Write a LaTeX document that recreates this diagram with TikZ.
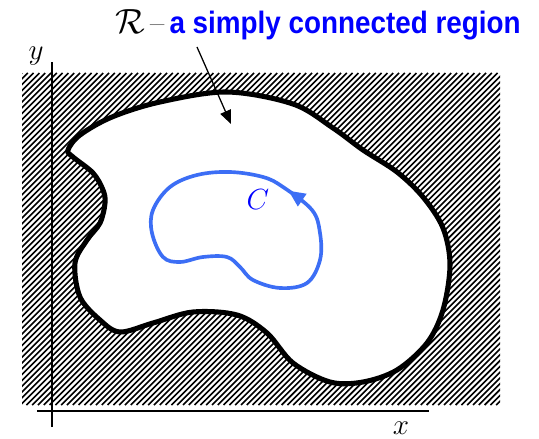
\documentclass[tikz,border=0pt]{standalone}
\usepackage{fontspec}
\setsansfont{Liberation Sans}
\usepackage{tikz}
\usetikzlibrary{positioning,arrows.meta,decorations.markings}
\definecolor{titleblue}{RGB}{0,0,255}
\definecolor{curveblue}{RGB}{60,110,245}
\tikzset{
  hatch-line/.style={line width=1.15pt, draw=black},
  region-line/.style={line width=3.6pt, draw=black, fill=white, line join=round},
  contour-line/.style={line width=2.6pt, draw=curveblue, line join=round},
  axis-line/.style={line width=1.3pt, draw=black},
  pointer-arrow/.style={-{Triangle[length=3.4mm, width=2.8mm]}, line width=0.9pt, draw=black},
  axis-label/.style={font=\fontsize{20}{22}\selectfont, inner sep=0pt}
}

\begin{document}
\begin{tikzpicture}[x=0.025cm, y=-0.025cm]
\useasboundingbox (0,0) rectangle (539,439);

% Hatched background
\begin{scope}
  \clip (22,73) rectangle (500,405);
  \foreach \c in {95,100.8,...,910}
    \draw[hatch-line] (\c-405,405) -- (\c-73,73);
\end{scope}

% Region R
\draw[region-line] plot[smooth cycle, tension=0.55] coordinates {
  (68,150) (80,135) (112,117) (160,102) (227,92) (293,104) (333,128)
  (363,150) (397,172) (423,197) (443,228) (450,265) (443,310) (427,343)
  (397,370) (363,382) (330,382) (293,363) (267,333) (237,315) (193,312)
  (153,323) (120,332) (100,320) (80,297) (75,263) (87,240) (100,223)
  (105,203) (103,190) (93,173) (73,157)};

% Axes
\coordinate (y-top) at (52,62);
\coordinate (y-end) at (52,427);
\coordinate (x-start) at (37,411);
\coordinate (x-end) at (429,411);
\draw[axis-line] (y-end) -- (y-top);
\draw[axis-line] (x-start) -- (x-end);
\node[axis-label] (x-label) at (401,428) {$x$};
\node[axis-label] (y-label) at (36,56) {$y$};

% Curve C
\draw[contour-line, postaction={decorate}, decoration={markings,
    mark=at position 0.065 with {\arrow[curveblue]{Triangle[length=4.2mm, width=3.6mm]}}}]
  plot[smooth cycle, tension=0.6] coordinates {
  (320,233) (312,210) (283,187) (263,177) (230,172) (197,175) (170,187)
  (153,210) (152,233) (163,257) (180,262) (203,257) (227,257) (240,267)
  (253,280) (280,288) (307,283) (320,260)};
\node[font=\fontsize{21}{24}\selectfont, text=titleblue, inner sep=0pt] (c-label) at (258,200) {$C$};

% Title and pointer
\node[anchor=base east, inner sep=0pt, font=\fontsize{22}{24}\selectfont] (title) at (521,34)
  {{\fontsize{24}{26}\selectfont$\mathcal{R}$}\,--\,\scalebox{0.9}[1]{\sffamily\bfseries\color{titleblue}a simply connected region}};
\coordinate (pointer-start) at (197,47);
\coordinate (pointer-tip) at (231,124);
\draw[pointer-arrow] (pointer-start) -- (pointer-tip);
\end{tikzpicture}
\end{document}
